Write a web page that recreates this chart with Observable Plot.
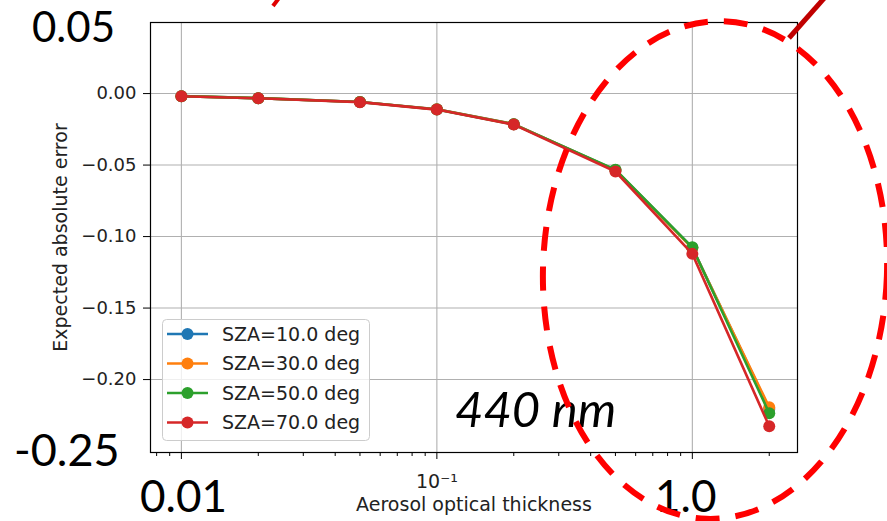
<!DOCTYPE html>
<html>
<head>
<meta charset="utf-8">
<script src="https://cdn.jsdelivr.net/npm/d3@7"></script>
<script src="https://cdn.jsdelivr.net/npm/@observablehq/plot@0.6"></script>
<style>
  html, body { margin: 0; padding: 0; background: white; }
  #chart { position: relative; width: 887px; height: 521px; overflow: hidden; }
</style>
</head>
<body>
<div id="chart"></div>
<script>
// ---- data ----
const aot = [0.01, 0.02, 0.05, 0.1, 0.2, 0.5, 1.0, 2.0];
const sza10 = [-0.0018, -0.0032, -0.0059, -0.0110, -0.0214, -0.0535, -0.1078, -0.2205];
const sza30 = [-0.0018, -0.0032, -0.0059, -0.0110, -0.0214, -0.0535, -0.1080, -0.2194];
const sza50 = [-0.0018, -0.0032, -0.0059, -0.0111, -0.0215, -0.0533, -0.1075, -0.2236];
const sza70 = [-0.0019, -0.0033, -0.0060, -0.0112, -0.0217, -0.0545, -0.1121, -0.2327];
const seriesValues = [sza10, sza30, sza50, sza70];
const seriesNames = ["SZA=10.0 deg", "SZA=30.0 deg", "SZA=50.0 deg", "SZA=70.0 deg"];
const seriesColors = ["#1f77b4", "#ff7f0e", "#2ca02c", "#d62728"];
const yTicks = [0, -0.05, -0.10, -0.15, -0.20];
const xMajor = [0.01, 0.1, 1];
const xMinor = [0.008, 0.009, 0.02, 0.03, 0.04, 0.05, 0.06, 0.07, 0.08, 0.09,
                0.2, 0.3, 0.4, 0.5, 0.6, 0.7, 0.8, 0.9, 2];
const xTickText = {0.1: "10\u207B\u00B9"};
const yLabel = "Expected absolute error";
const xLabel = "Aerosol optical thickness";
const overlayTexts = ["0.05", "-0.25", "0.01", "1.0", "440 nm"];

// ---- table ----
const rows = [];
seriesValues.forEach((vals, s) => vals.forEach((v, i) => rows.push({aot: aot[i], err: v, series: seriesNames[s]})));

const font = "DejaVu Sans";
const seriesMarks = [];
seriesNames.forEach((name, s) => {
  const d = rows.filter(r => r.series === name);
  seriesMarks.push(Plot.line(d, {x: "aot", y: "err", stroke: seriesColors[s], strokeWidth: 2.6}));
  seriesMarks.push(Plot.dot(d, {x: "aot", y: "err", r: 6, fill: seriesColors[s], stroke: "none"}));
});

const plot = Plot.plot({
  width: 887,
  height: 521,
  marginLeft: 150,
  marginRight: 90,
  marginTop: 22,
  marginBottom: 69,
  style: {fontFamily: font, fontSize: "18px", background: "white"},
  x: {type: "log", domain: [0.00757, 2.58]},
  y: {domain: [-0.251, 0.0497]},
  marks: [
    Plot.gridY(yTicks, {stroke: "#b0b0b0", strokeOpacity: 1, strokeWidth: 1.1}),
    Plot.gridX(xMajor, {stroke: "#b0b0b0", strokeOpacity: 1, strokeWidth: 1.1}),
    ...seriesMarks,
    Plot.frame({stroke: "#000", strokeWidth: 1.2}),
    Plot.axisY(yTicks, {tickSize: 7, tickPadding: 7, tickFormat: d3.format(".2f"), fontSize: 18, label: null, stroke: "#000", color: "#222"}),
    Plot.axisX(xMajor, {tickSize: 7, tickPadding: 15, tickFormat: d => xTickText[d] || "", fontSize: 19, label: null, stroke: "#000", color: "#222"}),
    Plot.axisX(xMinor, {tickSize: 4, tickFormat: () => "", label: null, stroke: "#000"}),
    Plot.text([yLabel], {frameAnchor: "left", textAnchor: "middle", lineAnchor: "middle", dx: -90, rotate: -90, fontSize: 19, fill: "#222"}),
    Plot.text([xLabel], {frameAnchor: "bottom", textAnchor: "middle", dy: 58, fontSize: 19, fill: "#222"})
  ]
});
document.getElementById("chart").appendChild(plot);

// ---- legend (inside axes, lower left) ----
const svg = d3.select(plot);
const lg = svg.append("g").attr("font-family", font).attr("font-size", 19).attr("text-anchor", "start");
lg.append("rect").attr("x", 162.5).attr("y", 319.5).attr("width", 207).attr("height", 121)
  .attr("rx", 4).attr("fill", "white").attr("fill-opacity", 0.8).attr("stroke", "#cccccc");
seriesNames.forEach((name, i) => {
  const y = 334 + i * 29.5;
  lg.append("line").attr("x1", 167).attr("x2", 208).attr("y1", y).attr("y2", y)
    .attr("stroke", seriesColors[i]).attr("stroke-width", 2.6);
  lg.append("circle").attr("cx", 187.5).attr("cy", y).attr("r", 6).attr("fill", seriesColors[i]);
  lg.append("text").attr("x", 222).attr("y", y).attr("dy", "0.36em").attr("fill", "#222").text(name);
});

// ---- slide annotations ----
const ann = svg.append("g").attr("text-anchor", "start");
const place = [
  {t: overlayTexts[0], x: 32, y: 42, size: 42},
  {t: overlayTexts[1], x: 14, y: 466, size: 45},
  {t: overlayTexts[2], x: 140, y: 512, size: 44},
  {t: overlayTexts[3], x: 655, y: 512, size: 44},
  {t: overlayTexts[4], x: 455, y: 427, size: 49, italic: true}
];
place.forEach(p => {
  const t = ann.append("text").attr("x", p.x).attr("y", p.y).text(p.t)
    .attr("font-family", "Lato, 'Open Sans', sans-serif").attr("font-size", p.size).attr("fill", "#000");
  if (p.italic) t.attr("font-style", "italic");
});
ann.append("ellipse").attr("cx", 715).attr("cy", 270).attr("rx", 172).attr("ry", 249)
  .attr("transform", "rotate(2 715 270)")
  .attr("fill", "none").attr("stroke", "#ff0000").attr("stroke-width", 6)
  .attr("stroke-dasharray", "24 16");
ann.append("line").attr("x1", 789).attr("y1", 38).attr("x2", 827).attr("y2", -5)
  .attr("stroke", "#c00000").attr("stroke-width", 5);
ann.append("line").attr("x1", 279).attr("y1", -2).attr("x2", 273).attr("y2", 6)
  .attr("stroke", "#e00000").attr("stroke-width", 4);
</script>
</body>
</html>
